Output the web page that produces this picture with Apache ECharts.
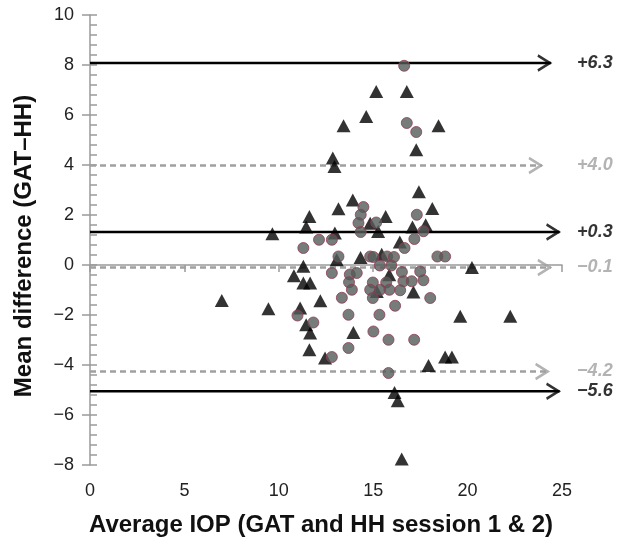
<!DOCTYPE html>
<html>
<head>
<meta charset="utf-8">
<script src="https://cdn.jsdelivr.net/npm/echarts@6/dist/echarts.min.js"></script>
<style>
html,body{margin:0;padding:0;background:#fff;}
#chart{width:621px;height:542px;}
</style>
</head>
<body>
<div id="chart"></div>
<script>
// ---- data ----
const xTicks = [0, 5, 10, 15, 20, 25];
const yTicks = [-8, -6, -4, -2, 0, 2, 4, 6, 8, 10];

const circleX = [16.64,16.78,17.28,14.48,14.34,14.22,14.34,15.16,17.31,17.66,17.18,16.66,12.13,12.81,11.30,13.16,14.84,15.01,15.74,16.10,18.40,18.81,15.35,15.96,12.81,13.76,14.13,16.52,17.49,13.72,14.98,15.69,16.60,17.04,17.66,13.87,14.84,15.37,15.86,16.43,13.34,14.98,18.02,16.16,10.99,11.83,13.69,15.33,15.01,15.81,17.17,13.69,12.81,15.81];
const circleY = [7.97,5.68,5.32,2.32,2.01,1.68,1.32,1.70,2.01,1.35,1.04,0.68,1.01,1.01,0.68,0.34,0.34,0.32,0.34,0.32,0.34,0.34,-0.02,-0.02,-0.32,-0.38,-0.32,-0.28,-0.26,-0.69,-0.70,-0.70,-0.65,-0.65,-0.61,-0.99,-0.99,-0.99,-0.99,-1.01,-1.31,-1.32,-1.32,-1.63,-2.02,-2.30,-1.99,-1.99,-2.66,-2.99,-2.99,-3.32,-3.68,-4.32];

const triX = [6.98,9.45,9.66,11.45,11.62,11.30,10.80,11.30,11.66,11.13,11.45,11.66,11.62,12.20,12.86,12.95,13.92,13.16,15.66,17.42,18.13,14.84,15.26,17.08,17.78,12.97,16.41,14.33,15.45,15.85,13.07,15.16,16.78,14.63,13.43,18.46,17.28,20.23,17.13,19.61,22.26,13.95,12.45,17.93,18.81,19.17,16.13,16.30,16.51,15.19];
const triY = [-1.42,-1.75,1.25,1.52,1.94,-0.05,-0.43,-0.72,-0.72,-1.72,-2.39,-2.72,-3.39,-1.43,4.28,3.94,2.60,2.25,1.94,2.93,2.26,1.67,1.34,1.52,1.61,1.28,0.92,0.30,0.43,-0.39,0.21,6.94,6.94,5.94,5.57,5.57,4.61,-0.10,-1.08,-2.05,-2.05,-2.70,-3.72,-4.02,-3.68,-3.68,-5.10,-5.43,-7.76,-1.06];

// reference lines (limits of agreement / bias)
const refY      = [8.08, 3.98, 1.32, -0.10, -4.26, -5.05];
const refEnd    = [24.41, 23.94, 24.87, 24.41, 24.29, 24.87];
const refLabels = ['+6.3', '+4.0', '+0.3', '\u22120.1', '\u22124.2', '\u22125.6'];
const refDashed = [false, true, false, true, true, false];
const labelX = 25.8;

// ---- build chart ----
const BLACK = '#000000', GRAY = '#a0a0a0';
const FONT = 'Liberation Sans, Arial, sans-serif';
const fmt = v => String(v).replace('-', '\u2212');

const series = [];
refY.forEach((y, i) => {
  const col = refDashed[i] ? GRAY : BLACK;
  series.push({
    type: 'line', z: 1, silent: true, symbol: 'none', animation: false,
    data: [[0, y], [refEnd[i], y]],
    lineStyle: { color: col, width: 2.5, type: refDashed[i] ? [6, 4] : 'solid' }
  });
  series.push({
    type: 'scatter', z: 1, silent: true, animation: false, clip: false,
    data: [[refEnd[i], y]],
    symbol: 'path://M0,0L10,7L0,14', symbolSize: [12, 15], symbolOffset: [-7, 0],
    itemStyle: { color: 'none', borderColor: col, borderWidth: 2.5 }
  });
  series.push({
    type: 'scatter', z: 3, silent: true, animation: false, clip: false,
    data: [[labelX, y]], symbolSize: 0,
    label: { show: true, position: 'right', distance: 0, formatter: refLabels[i],
      color: col, fontSize: 18, fontWeight: 'bold', fontStyle: 'italic', fontFamily: FONT }
  });
});
series.push({
  type: 'scatter', z: 2, animation: false, symbol: 'triangle', symbolSize: [14, 13],
  data: triX.map((x, i) => [x, triY[i]]),
  itemStyle: { color: '#000000' }
});
series.push({
  type: 'scatter', z: 4, animation: false, symbol: 'circle', symbolSize: 11,
  data: circleX.map((x, i) => [x, circleY[i]]),
  itemStyle: { color: '#525b57', borderColor: '#8e3d52', borderWidth: 1 }
});

const axisGray = '#9a9a9a';
const chart = echarts.init(document.getElementById('chart'));
chart.setOption({
  backgroundColor: '#ffffff',
  animation: false,
  textStyle: { fontFamily: FONT },
  grid: { left: 90, right: 59, top: 15, bottom: 77 },
  xAxis: {
    type: 'value', min: xTicks[0], max: xTicks[xTicks.length - 1], interval: 5,
    splitLine: { show: false },
    axisLine: { lineStyle: { color: axisGray, width: 1.5 } },
    axisTick: { show: true, length: 7, lineStyle: { color: axisGray, width: 1.5 } },
    axisLabel: { color: '#222', fontSize: 18, margin: 17 },
    name: 'Average IOP (GAT and HH session 1 & 2)',
    nameLocation: 'middle', nameGap: 48,
    nameTextStyle: { color: '#111', fontSize: 24, fontWeight: 'bold', padding: [0, 10, 0, 0] }
  },
  yAxis: [{
    type: 'value', min: yTicks[0], max: yTicks[yTicks.length - 1], interval: 2,
    splitLine: { show: false },
    axisLine: { show: true, lineStyle: { color: axisGray, width: 1.5 } },
    axisTick: { show: true, length: 8, lineStyle: { color: axisGray, width: 1.5 } },
    axisLabel: { color: '#222', fontSize: 18, margin: 16, formatter: fmt },
    name: 'Mean difference (GAT\u2013HH)',
    nameLocation: 'middle', nameRotate: 90, nameGap: 54,
    nameTextStyle: { color: '#111', fontSize: 24, fontWeight: 'bold', padding: [0, 12, 0, 0] }
  }, {
    type: 'value', min: yTicks[0], max: yTicks[yTicks.length - 1], interval: 2,
    position: 'left', splitLine: { show: false },
    axisLine: { show: false },
    axisLabel: { show: false },
    axisTick: { show: true, inside: true, length: 7, lineStyle: { color: axisGray, width: 1.5 } },
    minorTick: { show: true, splitNumber: 5, length: 7, lineStyle: { color: axisGray, width: 1.5 } }
  }],
  series: series
});
</script>
</body>
</html>
